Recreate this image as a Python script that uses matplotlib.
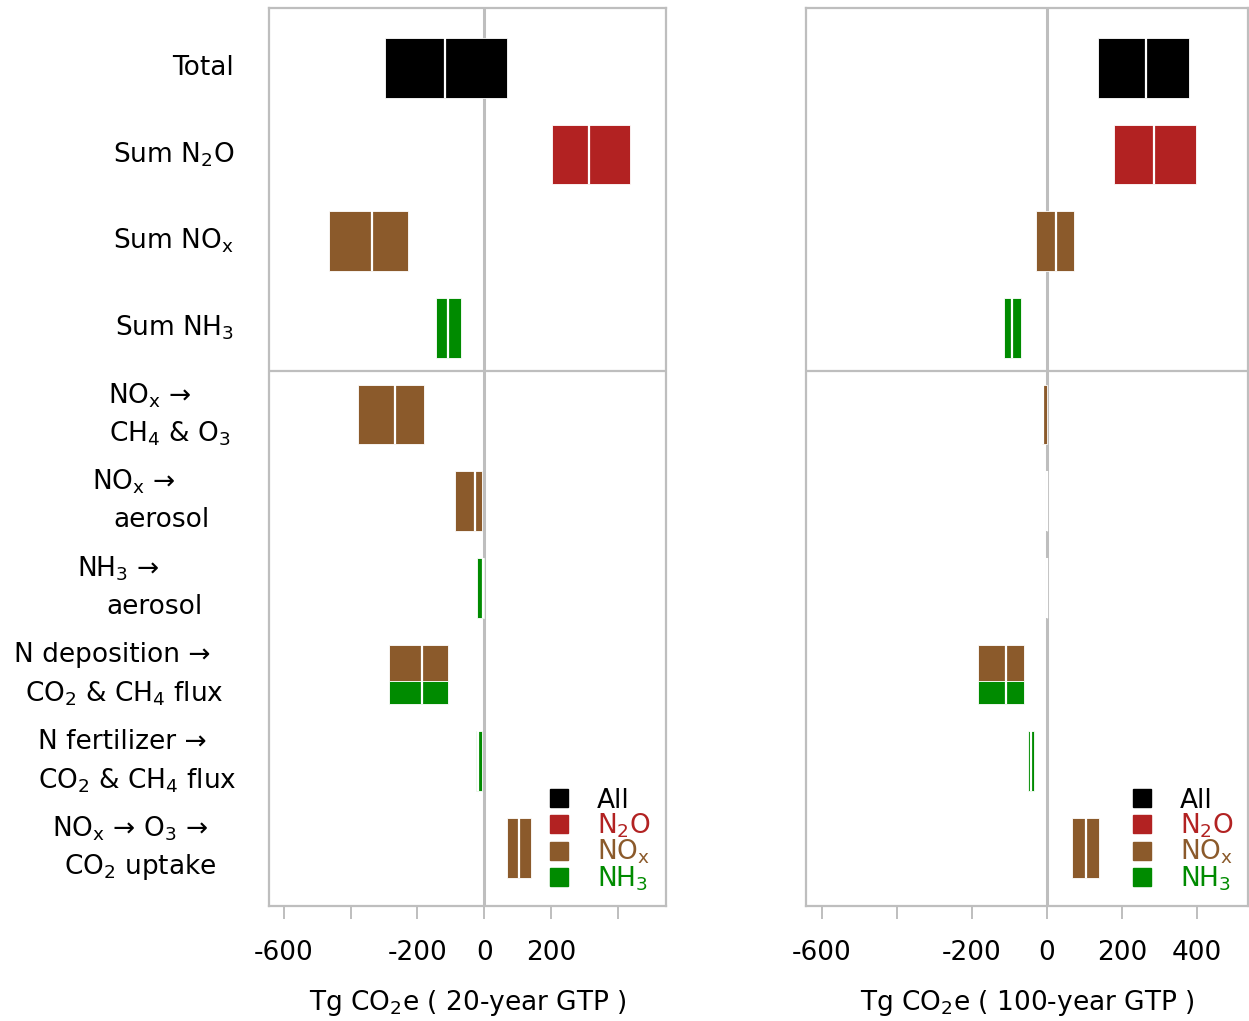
import matplotlib
matplotlib.use("Agg")
import matplotlib.pyplot as plt
from matplotlib.lines import Line2D
from matplotlib.transforms import blended_transform_factory

plt.rcParams['font.family'] = ['DejaVu Sans']
plt.rcParams['mathtext.default'] = 'regular'

# filas de arriba a abajo
row_labels = [
    ["Total"],
    ["Sum N$_2$O"],
    ["Sum NO$_x$"],
    ["Sum NH$_3$"],
    ["NO$_x$ →", "CH$_4$ & O$_3$"],
    ["NO$_x$ →", "aerosol"],
    ["NH$_3$ →", "aerosol"],
    ["N deposition →", "CO$_2$ & CH$_4$ flux"],
    ["N fertilizer →", "CO$_2$ & CH$_4$ flux"],
    ["NO$_x$ → O$_3$ →", "CO$_2$ uptake"],
]
row_source = ["All", "N2O", "NOx", "NH3", "NOx", "NOx", "NH3", "NOx+NH3", "NH3", "NOx"]

# Tg CO2e, 20-year GTP: bajo, central, alto
gtp20_low = [-296, 203, -463, -143, -379, -87, -21, -284, -24, 69]
gtp20_mid = [-116, 313, -337, -107, -266, -28, -5, -185, -18, 104]
gtp20_high = [69, 436, -227, -69, -179, -6, -1, -107, -7, 140]

# Tg CO2e, 100-year GTP
gtp100_low = [136, 179, -29, -115, -14, -0.5, -0.5, -184, -51, 67]
gtp100_mid = [264, 285, 24, -93, -10, 0, 0, -110, -43, 104]
gtp100_high = [379, 397, 72, -69, 1, 0.5, 0.5, -61, -36, 139]

# parte NOx de la barra de deposicion (resto NH3)
ndep_nox_share = 0.6

x_ticks = [-600, -400, -200, 0, 200, 400]
x_ticklabels_20 = ["-600", "", "-200", "0", "200", ""]
x_ticklabels_100 = ["-600", "", "-200", "0", "200", "400"]

legend_names = ["All", "N2O", "NOx", "NH3"]
legend_labels = ["All", "N$_2$O", "NO$_x$", "NH$_3$"]
colors = {"All": "black", "N2O": "#B22222", "NOx": "#8B5A2B", "NH3": "#008B00"}
GRAY = "#bebebe"
FS = 19
H = 0.69

fig = plt.figure(figsize=(12.49, 10.21), dpi=100)
ax1 = fig.add_axes([269 / 1249, 1 - 906 / 1021, 397 / 1249, 898 / 1021])
ax2 = fig.add_axes([806 / 1249, 1 - 906 / 1021, 442 / 1249, 898 / 1021])


def draw_panel(ax, low, mid, high, xlim, ticklabels, xlabel, leg_anchor):
    ypos = list(range(1, len(low) + 1))
    ax.axvline(0, color=GRAY, lw=2.2, zorder=1)
    ax.axhline(4.5, color=GRAY, lw=1.6, zorder=1)
    for y, lo, m, hi, src in zip(ypos, low, mid, high, row_source):
        if src == "NOx+NH3":
            h1 = H * ndep_nox_share
            h2 = H - h1
            ax.barh(y - H / 2 + h1 / 2, hi - lo, left=lo, height=h1, color=colors["NOx"],
                    edgecolor="white", linewidth=0.6, zorder=2)
            ax.barh(y + H / 2 - h2 / 2, hi - lo, left=lo, height=h2, color=colors["NH3"],
                    edgecolor="white", linewidth=0.6, zorder=2)
        else:
            ax.barh(y, hi - lo, left=lo, height=H, color=colors[src],
                    edgecolor="white", linewidth=0.6, zorder=2)
        ax.vlines(m, y - H / 2, y + H / 2, color="white", lw=1.6, zorder=3)

    ax.set_xlim(*xlim)
    ax.set_ylim(10.67, 0.31)
    ax.set_yticks([])
    ax.set_xticks(x_ticks)
    ax.set_xticklabels(ticklabels, fontsize=FS)
    ax.tick_params(axis="x", length=9.5, width=1.4, color=GRAY, pad=15)
    for s in ax.spines.values():
        s.set_color(GRAY)
        s.set_linewidth(1.6)
    ax.set_xlabel(xlabel, fontsize=FS, labelpad=16)

    handles = [Line2D([], [], marker="s", ls="none", color=colors[n], markersize=13)
               for n in legend_names]
    ax.legend(handles, legend_labels, loc="lower right", bbox_to_anchor=leg_anchor,
              frameon=False, fontsize=FS, handlelength=0.7, handletextpad=1.1,
              labelspacing=-0.08, borderpad=0.0,
              labelcolor=[colors[n] for n in legend_names])


draw_panel(ax1, gtp20_low, gtp20_mid, gtp20_high, (-644, 544), x_ticklabels_20,
           "Tg CO$_2$e ( 20-year GTP )", (0.995, 0.0))
draw_panel(ax2, gtp100_low, gtp100_mid, gtp100_high, (-643, 536), x_ticklabels_100,
           "Tg CO$_2$e ( 100-year GTP )", (0.998, 0.0))

# etiquetas de filas a la izquierda
tr = blended_transform_factory(fig.transFigure, ax1.transData)
two_line_x = [(150, 170), (134, 162), (118, 154), (112, 124), (122, 137), (130, 140)]
for i, lines in enumerate(row_labels):
    y = i + 1
    if len(lines) == 1:
        ax1.text(234 / 1249, y, lines[0], transform=tr, ha="right", va="center", fontsize=FS)
    else:
        xa, xb = two_line_x[i - 4]
        ax1.text(xa / 1249, y - 0.22, lines[0], transform=tr, ha="center", va="center", fontsize=FS)
        ax1.text(xb / 1249, y + 0.22, lines[1], transform=tr, ha="center", va="center", fontsize=FS)

fig.savefig("out.png", dpi=100)
